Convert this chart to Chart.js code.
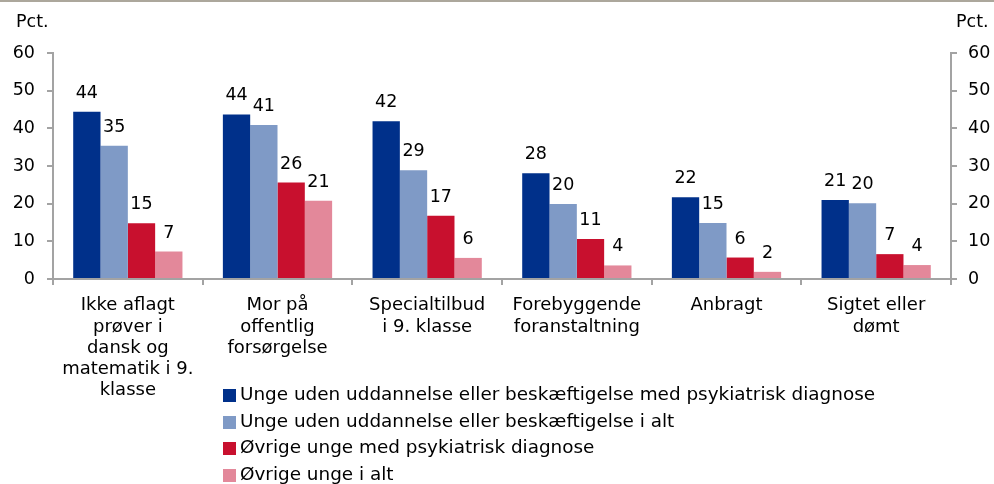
<!DOCTYPE html>
<html>
<head>
<meta charset="utf-8">
<script src="https://cdn.jsdelivr.net/npm/chart.js@4/dist/chart.umd.min.js"></script>
<style>
  html, body { margin: 0; padding: 0; background: #fff; }
  #wrap { position: relative; width: 994px; height: 484px; overflow: hidden; font-family: "DejaVu Sans", Verdana, sans-serif; color: #000; }
  #topline { position: absolute; left: 0; top: 0; width: 994px; height: 2px; background: #aca79c; }
  canvas { position: absolute; left: 0; top: 0; }
  .unit { position: absolute; top: 11px; font-size: 17.5px; line-height: normal; }
  #legend { position: absolute; left: 223px; top: 381px; font-size: 18.4px; }
  #legend div { height: 26.5px; line-height: 26.5px; white-space: nowrap; }
  #legend span.sw { display: inline-block; width: 13px; height: 13px; margin-right: 4px; vertical-align: -2px; }
</style>
</head>
<body>
<div id="wrap">
  <div id="topline"></div>
  <canvas id="c" width="994" height="484"></canvas>
  <div class="unit" style="left:16px">Pct.</div>
  <div class="unit" style="left:956px">Pct.</div>
  <div id="legend"></div>
</div>
<script>
/* data */
const categories = [
  ['Ikke aflagt', 'prøver i', 'dansk og', 'matematik i 9.', 'klasse'],
  ['Mor på', 'offentlig', 'forsørgelse'],
  ['Specialtilbud', 'i 9. klasse'],
  ['Forebyggende', 'foranstaltning'],
  ['Anbragt'],
  ['Sigtet eller', 'dømt'],
];
const seriesNames = [
  'Unge uden uddannelse eller beskæftigelse med psykiatrisk diagnose',
  'Unge uden uddannelse eller beskæftigelse i alt',
  'Øvrige unge med psykiatrisk diagnose',
  'Øvrige unge i alt',
];
const uddPsyk  = [44.4, 43.7, 41.9, 28.1, 21.7, 21.0];
const uddAlt   = [35.4, 40.9, 28.9, 19.9, 14.9, 20.1];
const ovrPsyk  = [14.8, 25.6, 16.8, 10.6, 5.7, 6.6];
const ovrAlt   = [7.3, 20.8, 5.6, 3.6, 1.9, 3.7];
const yTicks   = [0, 10, 20, 30, 40, 50, 60];

const COLORS = ['#00308a', '#7f9ac6', '#c8102e', '#e3889a'];
const AXIS = '#a3a3a3';
const FONT = '"DejaVu Sans", Verdana, sans-serif';

/* value labels above bars */
const barLabels = {
  id: 'barLabels',
  afterDatasetsDraw(chart) {
    const ctx = chart.ctx;
    ctx.save();
    ctx.font = '17.5px ' + FONT;
    ctx.fillStyle = '#000';
    ctx.textAlign = 'center';
    ctx.textBaseline = 'alphabetic';
    chart.data.datasets.forEach((ds, i) => {
      chart.getDatasetMeta(i).data.forEach((bar, j) => {
        ctx.fillText(String(Math.round(ds.data[j])), bar.x, bar.y - 14);
      });
    });
    ctx.restore();
  }
};

function yAxis(pos, w, pad) {
  return {
    type: 'linear',
    position: pos,
    display: true,
    min: 0,
    max: 60,
    afterBuildTicks: s => { s.ticks = yTicks.map(v => ({ value: v })); },
    afterFit: s => { s.width = w; },
    ticks: { color: '#000', font: { family: FONT, size: 17.5 }, padding: pad },
    grid: { drawOnChartArea: false, color: AXIS, lineWidth: 2, tickLength: 6 },
    border: { color: AXIS, width: 2 },
  };
}

const datasets = [uddPsyk, uddAlt, ovrPsyk, ovrAlt].map((d, i) => ({
  label: seriesNames[i],
  data: d,
  backgroundColor: COLORS[i],
  borderWidth: 0,
  categoryPercentage: 0.73,
  barPercentage: 1.0,
  yAxisID: 'y',
}));

new Chart(document.getElementById('c'), {
  type: 'bar',
  data: { labels: categories, datasets },
  options: {
    responsive: false,
    animation: false,
    devicePixelRatio: 1,
    layout: { padding: { top: 53, left: 0, right: 0, bottom: 0 } },
    plugins: { legend: { display: false }, tooltip: { enabled: false } },
    scales: {
      x: {
        afterFit: s => { s.height = 205; },
        ticks: { color: '#000', font: { family: FONT, size: 18, lineHeight: 1.18 }, padding: 10, maxRotation: 0, autoSkip: false },
        grid: { drawOnChartArea: false, color: AXIS, lineWidth: 2, tickLength: 6, offset: true },
        border: { color: AXIS, width: 2 },
      },
      y: yAxis('left', 53, 12),
      y2: yAxis('right', 43, 11),
    },
  },
  plugins: [barLabels],
});

/* legend */
const leg = document.getElementById('legend');
seriesNames.forEach((name, i) => {
  const row = document.createElement('div');
  const sw = document.createElement('span');
  sw.className = 'sw';
  sw.style.background = COLORS[i];
  row.appendChild(sw);
  row.appendChild(document.createTextNode(name));
  leg.appendChild(row);
});
</script>
</body>
</html>
